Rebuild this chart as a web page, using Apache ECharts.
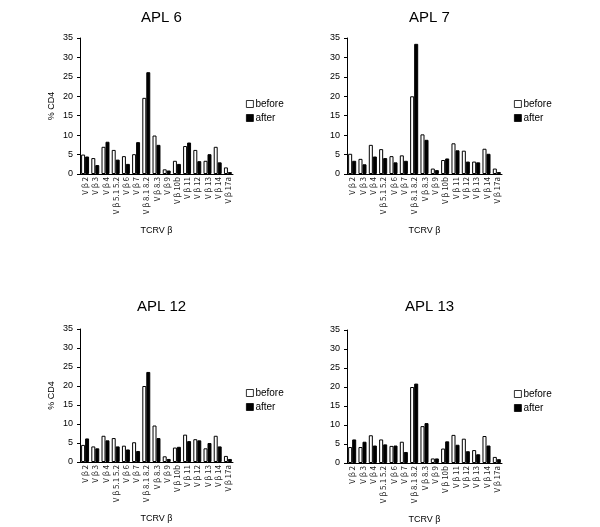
<!DOCTYPE html>
<html>
<head>
<meta charset="utf-8">
<script src="https://cdn.jsdelivr.net/npm/echarts@6/dist/echarts.min.js"></script>
<style>
  html, body { margin: 0; padding: 0; background: #fff; }
  #chart { width: 600px; height: 527px; }
</style>
</head>
<body>
<div id="chart"></div>
<script>
// TCRV beta families on the x axis
var categories = ["Vβ2", "Vβ3", "Vβ4", "Vβ5.1 5.2", "Vβ6", "Vβ7", "Vβ8.1 8.2", "Vβ8.3",
  "Vβ9", "Vβ10b", "Vβ11", "Vβ12", "Vβ13", "Vβ14", "Vβ17a"];
var panelTitles = ["APL 6", "APL 7", "APL 12", "APL 13"];
var yTicks = [0, 5, 10, 15, 20, 25, 30, 35];

// % CD4
var apl6Before = [5.0, 4.1, 7.0, 6.2, 4.6, 5.1, 19.6, 9.9, 1.2, 3.4, 7.2, 6.2, 3.4, 7.0, 1.7];
var apl6After = [4.5, 2.3, 8.3, 3.7, 2.6, 8.2, 26.2, 7.5, 0.9, 2.6, 8.1, 3.3, 5.1, 3.0, 0.5];
var apl7Before = [5.2, 3.9, 7.5, 6.4, 4.6, 4.8, 20.0, 10.2, 1.4, 3.6, 7.9, 6.0, 3.2, 6.5, 1.4];
var apl7After = [3.4, 2.5, 4.5, 4.1, 3.0, 3.4, 33.5, 8.8, 1.0, 4.0, 6.1, 3.2, 3.0, 5.2, 0.5];
var apl12Before = [4.5, 4.1, 6.9, 6.3, 4.3, 5.2, 20.0, 9.6, 1.5, 3.8, 7.2, 6.0, 3.6, 6.9, 1.6];
var apl12After = [6.2, 3.6, 5.7, 4.1, 3.3, 2.9, 23.7, 6.3, 0.8, 4.0, 5.5, 5.7, 5.0, 4.1, 0.8];
var apl13Before = [4.2, 4.2, 7.3, 6.2, 4.5, 5.6, 20.0, 9.7, 1.2, 3.8, 7.4, 6.4, 3.4, 7.1, 1.6];
var apl13After = [6.2, 5.6, 4.6, 4.9, 4.6, 2.9, 20.9, 10.5, 1.2, 5.7, 4.8, 3.1, 2.3, 4.6, 1.0];

var beforeData = [apl6Before, apl7Before, apl12Before, apl13Before];
var afterData = [apl6After, apl7After, apl12After, apl13After];

// panel boxes: left, top, width, height
var boxes = [
  [80, 38, 153, 136],
  [347, 38, 155, 136],
  [80, 329, 153, 133],
  [347, 330, 155, 133]
];
var legendPos = [[241, 94], [509, 94], [241, 383], [509, 384]];
var font = "Liberation Sans";

var grid = [], xAxis = [], yAxis = [], series = [], title = [], legend = [];
for (var i = 0; i < 4; i++) {
  var b = boxes[i];
  grid.push({ left: b[0], top: b[1], width: b[2], height: b[3] });
  title.push({
    text: panelTitles[i],
    left: b[0] + b[2] / 2,
    top: i < 2 ? 5 : 294,
    textAlign: "center",
    textStyle: { fontFamily: font, fontSize: 15, fontWeight: "normal", color: "#000" }
  });
  xAxis.push({
    type: "category",
    gridIndex: i,
    data: categories,
    name: "TCRV β",
    nameLocation: "middle",
    nameGap: 52,
    nameTextStyle: { fontFamily: font, fontSize: 9, color: "#000" },
    axisLine: { lineStyle: { color: "#000", width: 1 } },
    axisTick: { length: 3, lineStyle: { color: "#000" } },
    axisLabel: {
      rotate: 90, interval: 0, fontFamily: "Noto Sans CJK JP", fontSize: 8,
      color: "#222", margin: 3,
      formatter: function (v) { return v.replace("Vβ", "V β "); }
    }
  });
  yAxis.push({
    type: "value",
    gridIndex: i,
    min: 0,
    max: 35,
    interval: 5,
    name: i % 2 === 0 ? "% CD4" : "",
    nameLocation: "middle",
    nameGap: 24,
    nameRotate: 90,
    nameTextStyle: { fontFamily: font, fontSize: 9, color: "#000" },
    axisLine: { show: true, lineStyle: { color: "#000", width: 1 } },
    axisTick: { show: true, length: 3, lineStyle: { color: "#000" } },
    axisLabel: { fontFamily: font, fontSize: 9, color: "#000", margin: 7 },
    splitLine: { show: false }
  });
  series.push({
    name: "before",
    type: "bar",
    xAxisIndex: i,
    yAxisIndex: i,
    data: beforeData[i],
    barGap: "0%",
    barCategoryGap: "22%",
    itemStyle: { color: "#fff", borderColor: "#000", borderWidth: 1 }
  });
  series.push({
    name: "after",
    type: "bar",
    xAxisIndex: i,
    yAxisIndex: i,
    data: afterData[i],
    barGap: "0%",
    barCategoryGap: "22%",
    itemStyle: { color: "#000", borderColor: "#000", borderWidth: 1 }
  });
  legend.push({
    data: ["before", "after"],
    orient: "vertical",
    left: legendPos[i][0],
    top: legendPos[i][1],
    icon: "rect",
    itemWidth: 7,
    itemHeight: 7,
    itemGap: 4,
    selectedMode: false,
    itemStyle: { borderWidth: 0.8 },
    textStyle: { fontFamily: font, fontSize: 10, color: "#000", padding: [0, 0, 0, -3] }
  });
}

var chart = echarts.init(document.getElementById("chart"));
chart.setOption({
  backgroundColor: "#fff",
  animation: false,
  title: title,
  legend: legend,
  grid: grid,
  xAxis: xAxis,
  yAxis: yAxis,
  series: series
});
</script>
</body>
</html>
